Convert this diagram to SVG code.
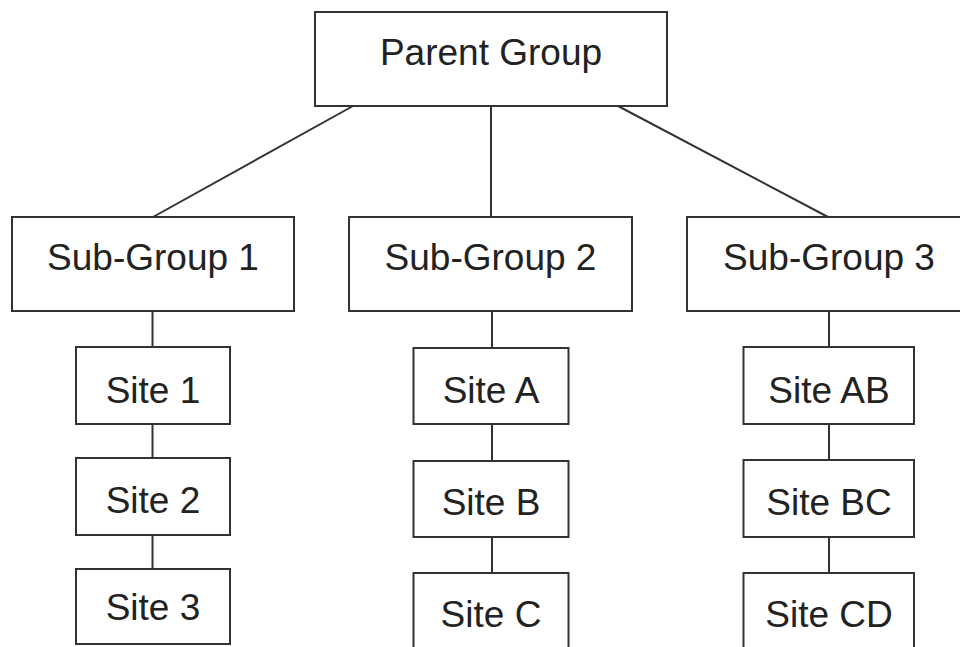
<svg xmlns="http://www.w3.org/2000/svg" width="960" height="647" viewBox="0 0 960 647">
<style>
.box{fill:#fff;stroke:#333;stroke-width:2}
.lbl{font-family:"Liberation Sans",Arial,sans-serif;font-size:37px;fill:#222;text-anchor:middle}
.con{stroke:#333;stroke-width:2;fill:none}
</style>
<rect width="960" height="647" fill="#fff"/>
<g id="connectors">
<line class="con" x1="353" y1="106" x2="153" y2="217"/>
<line class="con" x1="491" y1="106" x2="491" y2="217"/>
<line class="con" x1="618" y1="106" x2="828" y2="217"/>
<line class="con" x1="152.5" y1="311" x2="152.5" y2="347"/>
<line class="con" x1="152.5" y1="424" x2="152.5" y2="458"/>
<line class="con" x1="152.5" y1="535" x2="152.5" y2="569"/>
<line class="con" x1="492" y1="311" x2="492" y2="348"/>
<line class="con" x1="492" y1="424" x2="492" y2="461"/>
<line class="con" x1="492" y1="537" x2="492" y2="573"/>
<line class="con" x1="829" y1="311" x2="829" y2="347"/>
<line class="con" x1="829" y1="424" x2="829" y2="460"/>
<line class="con" x1="829" y1="537" x2="829" y2="573"/>
</g>
<g id="parent"><rect class="box" x="315" y="12" width="352" height="94"/><text class="lbl" x="491" y="65">Parent Group</text></g>
<g id="sub1"><rect class="box" x="12" y="217" width="282" height="94"/><text class="lbl" x="153" y="270">Sub-Group 1</text></g>
<g id="sub2"><rect class="box" x="349" y="217" width="283" height="94"/><text class="lbl" x="490.5" y="270">Sub-Group 2</text></g>
<g id="sub3"><rect class="box" x="687" y="217" width="284" height="94"/><text class="lbl" x="829" y="270">Sub-Group 3</text></g>
<g id="site1"><rect class="box" x="76" y="347" width="154" height="77"/><text class="lbl" x="153" y="402.5">Site 1</text></g>
<g id="site2"><rect class="box" x="76" y="458" width="154" height="77"/><text class="lbl" x="153" y="512.5">Site 2</text></g>
<g id="site3"><rect class="box" x="76" y="569" width="154" height="75"/><text class="lbl" x="153" y="620">Site 3</text></g>
<g id="siteA"><rect class="box" x="413.5" y="348" width="155" height="76"/><text class="lbl" x="491" y="402.5">Site A</text></g>
<g id="siteB"><rect class="box" x="413.5" y="461" width="155" height="76"/><text class="lbl" x="491" y="515">Site B</text></g>
<g id="siteC"><rect class="box" x="413.5" y="573" width="155" height="90"/><text class="lbl" x="491" y="627">Site C</text></g>
<g id="siteAB"><rect class="box" x="743.5" y="347" width="170.5" height="77"/><text class="lbl" x="829" y="402.5">Site AB</text></g>
<g id="siteBC"><rect class="box" x="743.5" y="460" width="170.5" height="77"/><text class="lbl" x="829" y="515">Site BC</text></g>
<g id="siteCD"><rect class="box" x="743.5" y="573" width="170.5" height="90"/><text class="lbl" x="829" y="627">Site CD</text></g>
</svg>
